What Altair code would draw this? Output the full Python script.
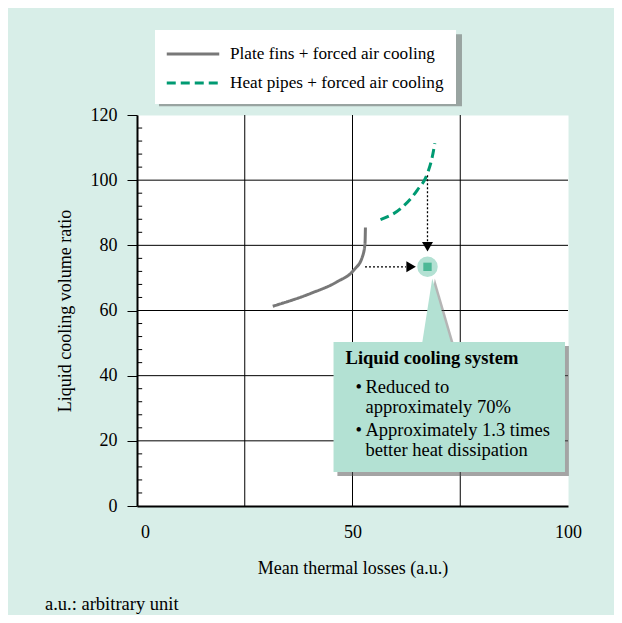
import altair as alt
import pandas as pd

FONT = "Liberation Serif"
BG = "#d8eee8"
MINT = "#b3e1d3"
DARK_MINT = "#4db896"
GRAY = "#787878"
GREEN = "#009a72"
SHADOW = "#5a5a5a"

# ---- data ----
series_names = ["Plate fins + forced air cooling", "Heat pipes + forced air cooling"]
plate_x = [31.5, 40.2, 46.4, 50.3, 52.3, 52.9, 53.0]
plate_y = [61.3, 65.2, 68.8, 72.4, 76.5, 80.6, 85.5]
pipes_x = [56.5, 61.2, 65.0, 67.4, 68.5, 69.1]
pipes_y = [87.9, 91.3, 96.9, 102.1, 107.1, 111.3]
liquid_x = [67.4]
liquid_y = [73.4]

x_ticks = [0, 50, 100]
x_grid = [25, 50, 75]
y_ticks = [0, 20, 40, 60, 80, 100, 120]
y_grid = [20, 40, 60, 80, 100]
y_minor = [4, 8, 12, 16, 24, 28, 32, 36, 44, 48, 52, 56, 64, 68, 72, 76,
           84, 88, 92, 96, 104, 108, 112, 116]

x_title = "Mean thermal losses (a.u.)"
y_title = "Liquid cooling volume ratio"
footnote = "a.u.: arbitrary unit"
callout_title = ["Liquid cooling system"]
callout_lines = ["Reduced to", "approximately 70%", "Approximately 1.3 times", "better heat dissipation"]
bullet_rows = [0, 2]

# ---- annotation anchors (data units) ----
arrow_v = {"x": [67.4], "y": [101.5], "y2": [81.2], "head": [79.6]}
arrow_h = {"y": [73.4], "x": [52.9], "x2": [62.4], "head": [63.6]}
box = {"x": [45.6], "x2": [99.3], "y": [10.4], "y2": [50.3]}
pointer_x = [66.2, 68.5, 72.8]
pointer_y = [50.3, 69.8, 50.3]
legend_box = {"x": [4.2], "x2": [74.5], "y": [123.9], "y2": [146.0]}
text_title_pos = {"x": [48.4], "y": [45.3]}
text_line_x = 53.0
text_bullet_x = 50.7
text_line_y = [36.6, 30.5, 23.3, 17.2]
minor_tick_x = [0.0]
minor_tick_x2 = [1.2]
SHX, SHY = 0.9, 1.2  # shadow offset in data units

# ---- scales / axes ----
XS = alt.Scale(domain=[0, 100], nice=False, zero=False)
YS = alt.Scale(domain=[0, 120], nice=False, zero=False)

x_axis = alt.Axis(values=x_ticks, grid=False, ticks=False, tickSize=0, labelFlush=False,
                  labelOffset={"condition": {"test": "datum.value === 0", "value": 8}, "value": 0},
                  domainColor="black", domainWidth=2,
                  labelFont=FONT, labelFontSize=18, labelColor="black", labelPadding=17,
                  title=x_title, titleFont=FONT, titleFontSize=18, titleFontWeight="normal",
                  titleColor="black", titlePadding=18)
y_axis = alt.Axis(values=y_ticks, grid=False, tickSize=10, tickColor="black", tickWidth=1,
                  domainColor="black", domainWidth=2,
                  labelFont=FONT, labelFontSize=18, labelColor="black", labelPadding=10,
                  title=y_title, titleFont=FONT, titleFontSize=18, titleFontWeight="normal",
                  titleColor="black", titlePadding=16)


def X(f="x"):
    return alt.X(f"{f}:Q", scale=XS, axis=x_axis)


def Y(f="y"):
    return alt.Y(f"{f}:Q", scale=YS, axis=y_axis)


def shadow_frame(d):
    return pd.DataFrame({
        "x": [v + SHX for v in d["x"]], "x2": [v + SHX for v in d["x2"]],
        "y": [v - SHY for v in d["y"]], "y2": [v - SHY for v in d["y2"]],
    })


# ---- frames ----
curves = pd.DataFrame({
    "x": plate_x + pipes_x,
    "y": plate_y + pipes_y,
    "series": [series_names[0]] * len(plate_x) + [series_names[1]] * len(pipes_x),
    "order": list(range(len(plate_x))) + list(range(len(pipes_x))),
})

grid_h = alt.Chart(pd.DataFrame({"y": y_grid})).mark_rule(color="black", strokeWidth=1).encode(y=Y())
grid_v = alt.Chart(pd.DataFrame({"x": x_grid})).mark_rule(color="black", strokeWidth=1).encode(x=X())
minor_ticks = alt.Chart(pd.DataFrame({
    "y": y_minor, "x": minor_tick_x * len(y_minor), "x2": minor_tick_x2 * len(y_minor)
})).mark_rule(color="black", strokeWidth=1).encode(x=X(), x2="x2:Q", y=Y())

legend = alt.Legend(orient="none", legendX=18, legendY=-85, title=None, fillColor="white",
                    padding=12, symbolType="M-2.5,0H2.5", symbolSize=441, symbolStrokeWidth=3,
                    symbolOffset=14, labelOffset=25, labelFont=FONT, labelFontSize=17.2,
                    labelColor="black", labelLimit=400, rowPadding=8)

legend_shadow = alt.Chart(shadow_frame(legend_box)).mark_rect(color=SHADOW, opacity=0.5).encode(
    x=X(), x2="x2:Q", y=Y(), y2="y2:Q")

lines = alt.Chart(curves).mark_line(strokeWidth=3, interpolate="monotone").encode(
    x=X(), y=Y(),
    color=alt.Color("series:N", scale=alt.Scale(domain=series_names, range=[GRAY, GREEN]), legend=legend),
    strokeDash=alt.StrokeDash("series:N", scale=alt.Scale(domain=series_names, range=[[1, 0], [9, 5]])),
    order="order:Q",
)

v_line = alt.Chart(pd.DataFrame({"x": arrow_v["x"], "y": arrow_v["y"], "y2": arrow_v["y2"]})).mark_rule(
    color="black", strokeWidth=1.3, strokeDash=[2, 2]).encode(x=X(), y=Y(), y2="y2:Q")
v_head = alt.Chart(pd.DataFrame({"x": arrow_v["x"], "y": arrow_v["head"]})).mark_point(
    shape="triangle-down", filled=True, color="black", size=120, opacity=1).encode(x=X(), y=Y())
h_line = alt.Chart(pd.DataFrame({"x": arrow_h["x"], "x2": arrow_h["x2"], "y": arrow_h["y"]})).mark_rule(
    color="black", strokeWidth=1.3, strokeDash=[2, 2]).encode(x=X(), x2="x2:Q", y=Y())
h_head = alt.Chart(pd.DataFrame({"x": arrow_h["head"], "y": arrow_h["y"]})).mark_point(
    shape="triangle-right", filled=True, color="black", size=120, opacity=1).encode(x=X(), y=Y())

box_shadow = alt.Chart(shadow_frame(box)).mark_rect(color=SHADOW, opacity=0.55).encode(
    x=X(), x2="x2:Q", y=Y(), y2="y2:Q")
pointer_shadow = alt.Chart(pd.DataFrame({
    "x": [v + 0.6 for v in pointer_x], "y": pointer_y, "y2": [pointer_y[0]] * 3,
})).mark_area(color=SHADOW, opacity=0.45).encode(x=X(), y=Y(), y2="y2:Q")
box_rect = alt.Chart(pd.DataFrame(box)).mark_rect(color=MINT, opacity=1).encode(
    x=X(), x2="x2:Q", y=Y(), y2="y2:Q")
pointer = alt.Chart(pd.DataFrame({"x": pointer_x, "y": pointer_y, "y2": [pointer_y[0]] * 3})).mark_area(
    color=MINT, opacity=1).encode(x=X(), y=Y(), y2="y2:Q")

liquid = pd.DataFrame({"x": liquid_x, "y": liquid_y})
circle = alt.Chart(liquid).mark_point(shape="circle", filled=True, color=MINT, size=420, opacity=1).encode(
    x=X(), y=Y())
square = alt.Chart(liquid).mark_point(shape="square", filled=True, color=DARK_MINT, size=70, opacity=1).encode(
    x=X(), y=Y())

title_text = alt.Chart(pd.DataFrame({"x": text_title_pos["x"], "y": text_title_pos["y"], "t": callout_title})).mark_text(
    align="left", baseline="middle", font=FONT, fontSize=18.5, fontWeight="bold", color="black").encode(
    x=X(), y=Y(), text="t:N")
body_text = alt.Chart(pd.DataFrame({"x": [text_line_x] * len(callout_lines), "y": text_line_y, "t": callout_lines})).mark_text(
    align="left", baseline="middle", font=FONT, fontSize=18.5, color="black").encode(
    x=X(), y=Y(), text="t:N")
bullet_text = alt.Chart(pd.DataFrame({"x": [text_bullet_x] * len(bullet_rows),
                                      "y": [text_line_y[i] for i in bullet_rows],
                                      "t": ["•"] * len(bullet_rows)})).mark_text(
    align="left", baseline="middle", font=FONT, fontSize=18.5, color="black").encode(
    x=X(), y=Y(), text="t:N")

chart = alt.layer(grid_h, grid_v, minor_ticks, legend_shadow, lines, v_line, v_head, h_line, h_head,
                  box_shadow, pointer_shadow, box_rect, pointer, circle, square,
                  title_text, body_text, bullet_text).properties(
    width=431, height=391,
    autosize=alt.AutoSizeParams(type="none"),
    padding={"left": 129, "top": 107, "right": 46, "bottom": 109},
    background=BG,
    title=alt.TitleParams(footnote, orient="bottom", anchor="start", frame="group", dx=-92, offset=18,
                          font=FONT, fontSize=18.5, fontWeight="normal", color="black"),
).configure_view(fill="white", stroke="transparent").configure_title(
    font=FONT, fontSize=18.5, fontWeight="normal", color="black")

chart.save("out.html", embed_options={"renderer": "svg", "actions": False})
